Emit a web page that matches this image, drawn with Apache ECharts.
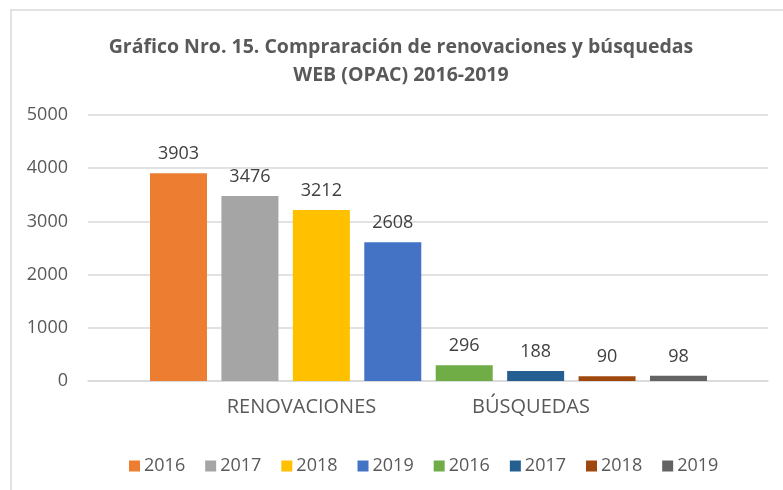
<!DOCTYPE html>
<html>
<head>
<meta charset="utf-8">
<script src="https://cdn.jsdelivr.net/npm/echarts@6/dist/echarts.min.js"></script>
<style>
  html, body { margin: 0; padding: 0; background: #fff; }
  #chart { width: 783px; height: 490px; }
</style>
</head>
<body>
<div id="chart"></div>
<script>
const categories = ['RENOVACIONES', 'BÚSQUEDAS']
const years = ['2016', '2017', '2018', '2019']
const renovaciones = [3903, 3476, 3212, 2608]
const busquedas = [296, 188, 90, 98]
const yTicks = [0, 1000, 2000, 3000, 4000, 5000]

const colors = ['#ED7D31', '#A5A5A5', '#FFC000', '#4472C4', '#70AD47', '#255E91', '#9E480E', '#636363']
const font = 'Open Sans'
const labelPos = [1.722, 4.935] // where the group names sit on the slot axis

let chart = echarts.init(document.getElementById('chart'))

// one bar per series, placed at slot i on a value x axis
let series = []
let groups = [renovaciones, busquedas]
groups.forEach((vals, g) => {
  vals.forEach((v, k) => {
    let i = g * years.length + k
    series.push({
      name: (g === 0 ? 'R ' : 'B ') + years[k],
      type: 'bar',
      data: [[i, v]],
      barWidth: 57,
      barGap: '-100%',
      itemStyle: { color: colors[i] },
      label: {
        show: true,
        position: 'top',
        distance: 10,
        color: '#404040',
        fontFamily: font,
        fontSize: 18
      }
    })
  })
})

let option = {
  animation: false,
  title: {
    text: 'Gráfico Nro. 15. Compraración de renovaciones y búsquedas\nWEB (OPAC) 2016-2019',
    left: 396,
    top: 28,
    textAlign: 'center',
    textStyle: {
      color: '#595959',
      fontFamily: font,
      fontSize: 19.5,
      fontWeight: 'bold',
      lineHeight: 28
    }
  },
  graphic: [{
    type: 'rect',
    shape: { x: 11, y: 10, width: 800, height: 500 },
    style: { fill: 'none', stroke: '#d9d9d9', lineWidth: 1.5 },
    silent: true
  }],
  legend: {
    left: 124,
    top: 452,
    icon: 'rect',
    itemWidth: 11,
    itemHeight: 11,
    itemGap: 20,
    formatter: n => n.slice(2),
    textStyle: { color: '#595959', fontFamily: font, fontSize: 18, padding: [0, 0, 0, -1] }
  },
  grid: { left: 88, right: 15, top: 115, bottom: 109 },
  xAxis: {
    type: 'value',
    min: -1.267,
    max: 8.253,
    splitLine: { show: false },
    axisTick: { show: false },
    axisLine: { lineStyle: { color: '#d9d9d9', width: 1.5 } },
    axisLabel: {
      customValues: labelPos,
      formatter: v => (v < 3 ? categories[0] : categories[1]),
      color: '#595959',
      fontFamily: font,
      fontSize: 20,
      margin: 16
    }
  },
  yAxis: {
    type: 'value',
    min: yTicks[0],
    max: yTicks[yTicks.length - 1],
    interval: 1000,
    axisLine: { show: false },
    axisTick: { show: false },
    splitLine: { lineStyle: { color: '#d9d9d9', width: 1.5 } },
    axisLabel: {
      formatter: v => String(v),
      color: '#595959',
      fontFamily: font,
      fontSize: 18,
      margin: 20
    }
  },
  series: series
}

option && chart.setOption(option)
</script>
</body>
</html>
